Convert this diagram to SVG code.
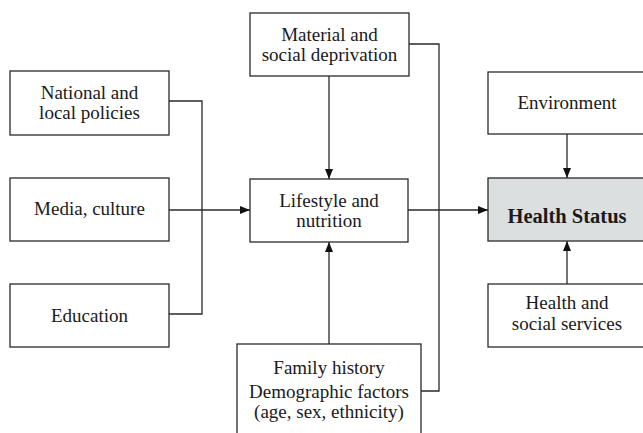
<svg xmlns="http://www.w3.org/2000/svg" width="643" height="433" viewBox="0 0 643 433">
<style>
.box{fill:#fff;stroke:#2a2a2a;stroke-width:1.3}
.hs{fill:#dcdfe0;stroke:#2a2a2a;stroke-width:1.3}
.t{font-family:"Liberation Serif","Times New Roman",serif;font-size:19px;fill:#1a1a1a;text-anchor:middle}
.b{font-weight:bold;font-size:20.5px}
.c{fill:none;stroke:#2a2a2a;stroke-width:1.3}
</style>
<defs>
<marker id="ah" viewBox="0 0 10 8" refX="10" refY="4" markerWidth="10" markerHeight="8" markerUnits="userSpaceOnUse" orient="auto">
<path d="M0,0 L10,4 L0,8 z" fill="#111"/>
</marker>
</defs>
<rect width="643" height="433" fill="#fff"/>
<g id="connectors">
<path class="c" d="M169,101 H202 V314 H169"/>
<path class="c" d="M169,210 H250" marker-end="url(#ah)"/>
<path class="c" d="M329,76 V179" marker-end="url(#ah)"/>
<path class="c" d="M409,44 H439 V391 H421"/>
<path class="c" d="M329,344 V242" marker-end="url(#ah)"/>
<path class="c" d="M408,210 H488" marker-end="url(#ah)"/>
<path class="c" d="M567,134 V178" marker-end="url(#ah)"/>
<path class="c" d="M567,284 V241" marker-end="url(#ah)"/>
</g>
<g id="national">
<rect class="box" x="10" y="71" width="159" height="64"/>
<text class="t" x="89.5" y="99">National and</text>
<text class="t" x="89.5" y="119">local policies</text>
</g>
<g id="media">
<rect class="box" x="10" y="178" width="159" height="63"/>
<text class="t" x="89.5" y="215">Media, culture</text>
</g>
<g id="education">
<rect class="box" x="10" y="284" width="159" height="63"/>
<text class="t" x="89.5" y="322">Education</text>
</g>
<g id="material">
<rect class="box" x="250" y="13" width="159" height="63"/>
<text class="t" x="329.5" y="41">Material and</text>
<text class="t" x="329.5" y="61">social deprivation</text>
</g>
<g id="lifestyle">
<rect class="box" x="250" y="179" width="158" height="63"/>
<text class="t" x="329" y="207">Lifestyle and</text>
<text class="t" x="329" y="227">nutrition</text>
</g>
<g id="family">
<rect class="box" x="237" y="344" width="184" height="100"/>
<text class="t" x="329" y="374">Family history</text>
<text class="t" x="329" y="398">Demographic factors</text>
<text class="t" x="329" y="418">(age, sex, ethnicity)</text>
</g>
<g id="environment">
<rect class="box" x="488" y="72" width="160" height="62"/>
<text class="t" x="567" y="109">Environment</text>
</g>
<g id="health-status">
<rect class="hs" x="488" y="178" width="160" height="63"/>
<text class="t b" x="567" y="223">Health Status</text>
</g>
<g id="services">
<rect class="box" x="488" y="284" width="160" height="63"/>
<text class="t" x="567" y="309">Health and</text>
<text class="t" x="567" y="330">social services</text>
</g>
</svg>
